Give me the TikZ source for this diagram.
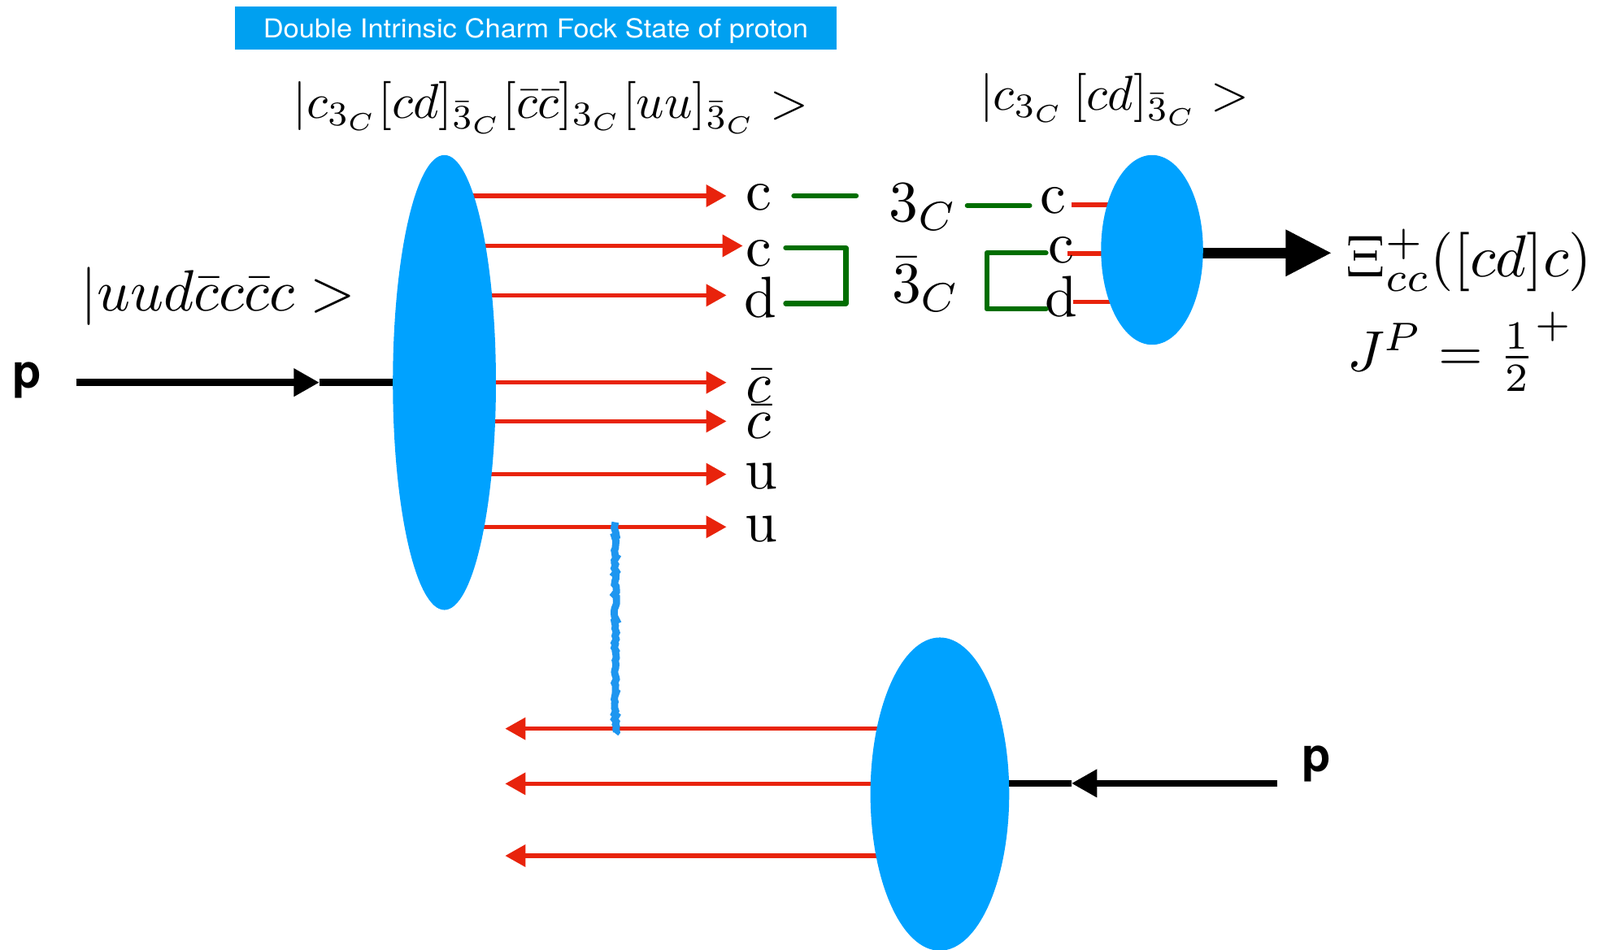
\documentclass[tikz,border=0pt]{standalone}
\usepackage{graphicx}
\usepackage{fontspec}
\newfontfamily\heros{TeX Gyre Heros}
\usetikzlibrary{arrows.meta,shapes.geometric,backgrounds,decorations.pathmorphing}
\definecolor{pblue}{RGB}{0,162,255}
\definecolor{tblue}{RGB}{0,160,240}
\definecolor{sblue}{RGB}{30,150,240}
\definecolor{qred}{RGB}{232,35,12}
\definecolor{cgreen}{RGB}{0,110,0}
\newcommand{\fsz}[1]{\fontsize{#1}{#1}\selectfont}
\newcommand{\myscl}[2]{\scalebox{#1}{#2}}
\begin{document}
\begin{tikzpicture}[x=1pt,y=-1pt,
  blob/.style={ellipse, fill=pblue, draw=none, inner sep=0pt},
  qline/.style={draw=qred, line width=4.5pt},
  qarrow/.style={qline, -{Triangle[length=20pt,width=21pt]}},
  gline/.style={draw=cgreen, line width=5pt, line cap=round, line join=round},
  pline/.style={draw=black, line width=7pt},
  lab/.style={anchor=base west, inner sep=0pt},
  mth/.style={anchor=base west, inner sep=0pt},
  squig/.style={draw=sblue, line width=7pt, decorate, decoration={random steps, segment length=2.5pt, amplitude=1.2pt}}]
\useasboundingbox (0,0) rectangle (1568,931);

% title
\node[fill=tblue, minimum width=590pt, minimum height=43pt, inner sep=0pt, text depth=0pt, text=white, font=\heros\fsz{25.5}] (title) at (525,27.5) {\scalebox{1.08}[1]{Double Intrinsic Charm Fock State of proton}};

% formulas
\node[mth] (f1) at (287,116) {\myscl{4.8}{$|c_{3_C}[cd]_{\bar{3}_C}[\bar{c}\bar{c}]_{3_C}[uu]_{\bar{3}_C}>$}};
\node[mth] (f2) at (960,108) {\myscl{4.8}{$|c_{3_C}\,[cd]_{\bar{3}_C}>$}};
\node[mth] (f3) at (79,305) {\myscl{5.7}{$|uud\bar{c}c\bar{c}c>$}};

% blobs
\node[blob, minimum width=101pt, minimum height=446pt] (E1) at (435.5,375) {};
\node[blob, minimum width=100pt, minimum height=186pt] (E2) at (1129,245) {};
\node[blob, minimum width=136pt, minimum height=307pt] (E3) at (921,778.5) {};

% quark labels (left column)
\node[lab] (lc1) at (731,206) {\myscl{5.7}{c}};
\node[lab] (lc2) at (731,261) {\myscl{5.7}{c}};
\node[lab] (ld3) at (729,311) {\myscl{5.7}{d}};
\node[lab] (lb4) at (731,395) {\myscl{5.7}{$\bar{c}$}};
\node[lab] (lb5) at (731,430) {\myscl{5.7}{$\bar{c}$}};
\node[lab] (lu6) at (730,479) {\myscl{5.7}{u}};
\node[lab] (lu7) at (730,531) {\myscl{5.7}{u}};

% colour labels
\node[lab] (c3) at (871,217) {\myscl{5.7}{$3_C$}};
\node[lab] (c3b) at (874,297) {\myscl{5.7}{$\bar{3}_C$}};

% quark labels (right column)
\node[lab] (rc1) at (1019,209) {\myscl{5.7}{c}};
\node[lab] (rc2) at (1027,258) {\myscl{5.7}{c}};
\node[lab] (rd3) at (1024,310) {\myscl{5.7}{d}};

% outputs
\node[mth] (xi) at (1319,271) {\myscl{5.8}{$\Xi_{cc}^{+}([cd]c)$}};
\node[mth] (jp) at (1320,364) {\myscl{5.6}{$J^P=\frac{1}{2}^{+}$}};

% proton labels
\node[mth, font=\heros\bfseries\fsz{46}] (pl) at (12,380.5) {p};
\node[mth, font=\heros\bfseries\fsz{46}] (pr) at (1276,756.5) {p};

% coordinates
\coordinate (t1) at (712,192);
\coordinate (t2) at (728,241);
\coordinate (t3) at (712,289.5);
\coordinate (t4) at (712,375);
\coordinate (t5) at (712,413);
\coordinate (t6) at (712,465);
\coordinate (t7) at (712,516.6);
\coordinate (b1) at (495,714.4);
\coordinate (b2) at (495,768.4);
\coordinate (b3) at (495,839);
\coordinate (r1) at (1050,200.6);
\coordinate (r2) at (1046,248.4);
\coordinate (r3) at (1052,296);
\coordinate (pL) at (75,375);
\coordinate (m1) at (313,375);
\coordinate (pR) at (1252,768);
\coordinate (m2) at (1050,768);
\coordinate (tX) at (1305,248);
\coordinate (s1) at (603,512);
\coordinate (s2) at (603,719);

\begin{pgfonlayer}{background}
  \fill[white] (0,0) rectangle (1568,931);
  \foreach \i in {1,...,7} \draw[qarrow] (E1.center |- t\i) -- (t\i);
  \foreach \i in {1,2,3} \draw[qarrow] (E3.center |- b\i) -- (b\i);
  \foreach \i in {1,2,3} \draw[qline] (r\i) -- (E2.center |- r\i);
  \draw[pline] (m2) -- (E3.center |- m2);
  \draw[draw=black, line width=10pt, -{Triangle[length=45pt,width=43pt]}] (E2.center |- tX) -- (tX);
\end{pgfonlayer}

% proton lines
\draw[pline, -{Triangle[length=25pt,width=26pt]}] (pL) -- (m1);
\draw[pline] (m1) -- (E1.west);
\draw[pline, -{Triangle[length=25pt,width=26pt]}] (pR) -- (m2);

% colour lines
\coordinate (g1a) at (778,192); \coordinate (g1b) at (839,192);
\coordinate (g2a) at (770,243); \coordinate (g2b) at (829,243);
\coordinate (g2c) at (829,297.5); \coordinate (g2d) at (770,297.5);
\coordinate (g3a) at (948,201.5); \coordinate (g3b) at (1009,201.5);
\coordinate (g4a) at (1025,248); \coordinate (g4b) at (967,248);
\coordinate (g4c) at (967,303); \coordinate (g4d) at (1025,303);
\draw[gline] (g1a) -- (g1b);
\draw[gline] (g2a) -- (g2b) -- (g2c) -- (g2d);
\draw[gline] (g3a) -- (g3b);
\draw[gline] (g4a) -- (g4b) -- (g4c) -- (g4d);

% gluon-like exchange
\draw[squig] (s1) -- (s2);
\end{tikzpicture}
\end{document}
